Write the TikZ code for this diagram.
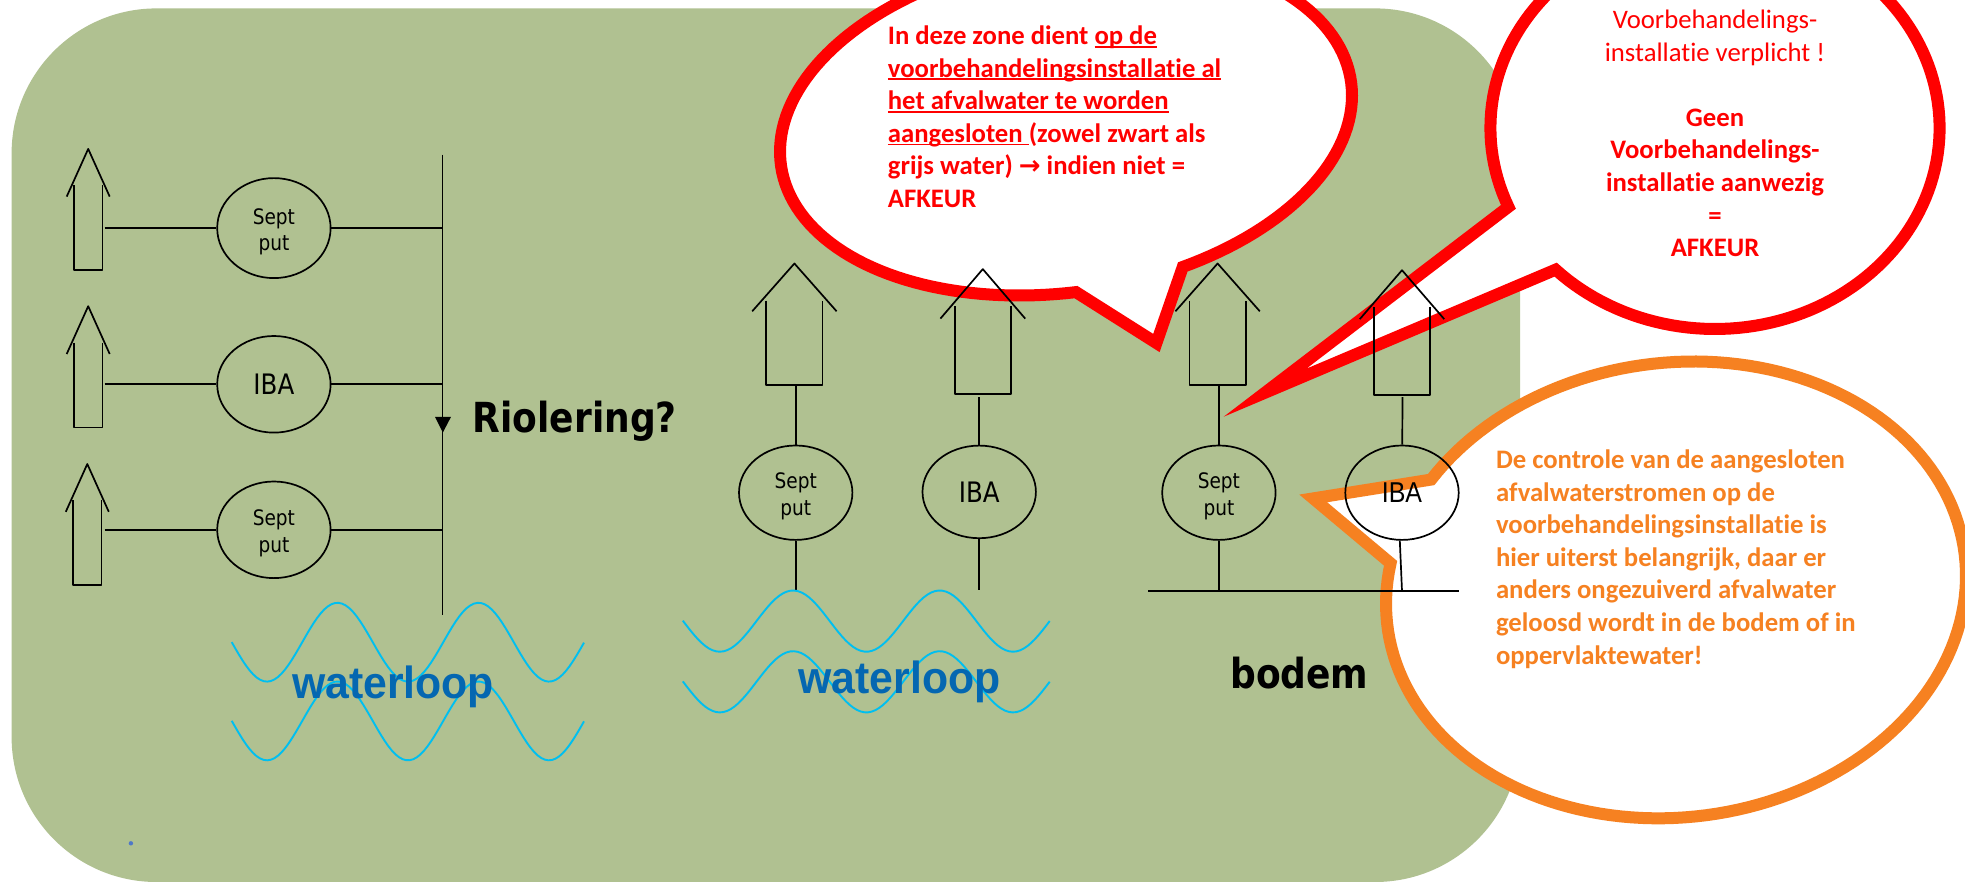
\documentclass[tikz,border=0pt]{standalone}
\usepackage{fontspec}
\usetikzlibrary{shapes.geometric}
\setmainfont[FakeStretch=0.87]{DejaVu Sans}
\newfontfamily\arialf[FakeStretch=0.87]{Liberation Sans}
\newfontfamily\arialwide[FakeStretch=0.95]{Liberation Sans}
\newfontfamily\calif[Ligatures=NoCommon]{Carlito}
\newfontfamily\arrowf{DejaVu Sans}
\definecolor{bgcol}{HTML}{B0C191}
\definecolor{redcol}{HTML}{FF0000}
\definecolor{orangecol}{HTML}{F68121}
\definecolor{wavecol}{HTML}{00BFF0}
\definecolor{bluetext}{HTML}{0467B1}
\definecolor{dotcol}{HTML}{4F78C8}
\newcommand\ulin[1]{\setbox0\hbox{#1}\rlap{\rule[-3.2pt]{\wd0}{1.9pt}}\box0}
\newcommand\lowr{\rule{0pt}{23pt}}
% apex x, apex y, wing dx, wing dy, wall dx, wall top, bottom
\newcommand\drawhouse[7]{%
  \draw[blk] ({#1-#3},{#2+#4}) -- (#1,#2) -- ({#1+#3},{#2+#4});
  \draw[blk] ({#1-#5},#6) -- ({#1-#5},#7) -- ({#1+#5},#7) -- ({#1+#5},#6);
}
\tikzset{
  x=1pt,y=-1pt,
  blk/.style={draw=black,line width=1.7pt,line join=round},
  tank/.style={shape=ellipse,draw=black,line width=1.7pt,inner sep=0pt,minimum width=113.4pt,align=center,font=\fontsize{21.3}{26.4}\selectfont},
  ibatext/.style={font=\fontsize{28.2}{32}\selectfont},
  wave/.style={draw=wavecol,line width=1.9pt},
  bubble/.style={fill=white,line width=12pt,line join=miter,miter limit=14},
  bigword/.style={font=\fontsize{41.4}{45}\selectfont\bfseries,text=black,inner sep=0pt,anchor=base west},
  waterword/.style={font=\arialwide\fontsize{45}{50}\selectfont\bfseries,text=bluetext,inner sep=0pt,anchor=base west},
  bubtext/.style={font=\calif\fontsize{26.7}{32.6}\selectfont,inner sep=0pt},
}
\begin{document}
\begin{tikzpicture}
\useasboundingbox (0,0) rectangle (1965,881);
\clip (0,0) rectangle (1965,881);
\fill[white] (0,0) rectangle (1965,881);
\fill[bgcol,rounded corners=145pt] (11.6,8.4) rectangle (1520,882);
\fill[dotcol] (130.9,843.3) circle (2.2pt);

% callouts
\draw[bubble,draw=redcol]
  plot[domain=-272:65.9,samples=160] ({1066+286*cos(\x)},{123.6-28.1*cos(\x)+169.6*sin(\x)})
  -- (1156.4,343) -- cycle;
\draw[bubble,draw=redcol]
  plot[domain=156.9:495.2,samples=160] ({1715+224.6*cos(\x)},{128+201*sin(\x)})
  -- (1265,392.7) -- cycle;
\draw[bubble,draw=orangecol]
  plot[domain=212.4:550.2,samples=160] ({1676+290*cos(\x)},{589.9-14*cos(\x)+228*sin(\x)})
  -- (1313.2,498.4) -- cycle;

% left group
\drawhouse{88.2}{148.9}{21.5}{47.7}{14.3}{185.4}{269.7}
\drawhouse{88.2}{306.2}{21.5}{47.8}{14.3}{342.7}{427.6}
\drawhouse{87.3}{464}{21.5}{47.8}{14.3}{500}{584.9}
\node[tank,minimum height=100pt] (e1) at (273.9,228.1) {\lowr Sept\\put};
\node[tank,minimum height=96.6pt,ibatext] (e2) at (273.9,384.3) {IBA};
\node[tank,minimum height=96.6pt] (e3) at (273.9,529.8) {\lowr Sept\\put};
\coordinate (t0) at (442.6,154.5);
\coordinate (t1) at (442.6,615.2);
\coordinate (h1) at (104.7,228.1);
\coordinate (h2) at (104.7,384.3);
\coordinate (h3) at (104.7,529.8);
\coordinate (j1) at (442.6,228.1);
\coordinate (j2) at (442.6,384.3);
\coordinate (j3) at (442.6,529.8);
\draw[blk] (t0) -- (t1);
\draw[blk] (h1) -- (e1) -- (j1);
\draw[blk] (h2) -- (e2) -- (j2);
\draw[blk] (h3) -- (e3) -- (j3);
\fill[black] (435,416.9) -- (451,416.9) -- (442.8,432.6) -- cycle;
\node[bigword] (riol) at (472.6,432.6) {Riolering?};
\draw[wave] plot[domain=231.7:584,samples=100] (\x,{642.2+39.4*cos((\x-267)/141*360)});
\draw[wave] plot[domain=231.7:584,samples=100] (\x,{720.9+39.4*cos((\x-267)/141*360)});
\node[waterword] (w1) at (292,698.4) {waterloop};

% middle group
\drawhouse{794.4}{263.5}{42.2}{47.8}{28.1}{300.6}{384.8}
\node[tank,minimum height=94.4pt] (e4) at (795.7,492.7) {\lowr Sept\\put};
\coordinate (h4) at (795.7,384.8);
\coordinate (o4) at (795.7,589.9);
\draw[blk] (h4) -- (e4) -- (o4);
\drawhouse{982.8}{269.1}{42.4}{49.5}{28.1}{306.2}{393.8}
\node[tank,minimum height=92.6pt,ibatext] (e5) at (979.2,491.9) {IBA};
\coordinate (h5) at (979.2,397.2);
\coordinate (o5) at (979.2,589.9);
\draw[blk] (h5) -- (e5) -- (o5);
\draw[wave] plot[domain=682.8:1049.7,samples=100] (\x,{621.1+30.6*cos((\x-719.8)/146.6*360)});
\draw[wave] plot[domain=682.8:1049.7,samples=100] (\x,{681.8+30.6*cos((\x-719.8)/146.6*360)});
\node[waterword] (w2) at (798.5,693.8) {waterloop};

% right group
\drawhouse{1217.6}{263.5}{42.2}{47.8}{28.1}{300.6}{384.8}
\node[tank,minimum height=94.4pt] (e6) at (1218.9,492.7) {\lowr Sept\\put};
\coordinate (h6) at (1218.9,384.8);
\coordinate (g0) at (1148.4,591);
\coordinate (g1) at (1458.8,591);
\coordinate (g6) at (1218.9,591);
\draw[blk] (h6) -- (e6) -- (g6);
\draw[blk] (g0) -- (g1);
\drawhouse{1402}{270.2}{42.2}{48.9}{28.3}{307.3}{395}
\node[tank,minimum height=94.4pt,font=\arialf\fontsize{28.7}{32}\selectfont] (e7) at (1402,492.7) {IBA};
\coordinate (h7) at (1402.5,397.2);
\coordinate (o7) at (1399.8,540.5);
\coordinate (g7) at (1402,591);
\draw[blk] (h7) -- (e7);
\draw[blk] (o7) -- (g7);
\node[bigword] (bod) at (1230,688.2) {bodem};

% callout texts
\node[bubtext,text=redcol,anchor=north west,align=left] (tr1) at (887.7,25.5) {%
  \textbf{In deze zone dient \ulin{op de}}\\
  \textbf{\ulin{voorbehandelingsinstallatie al}}\\
  \textbf{\ulin{het afvalwater te worden}}\\
  \textbf{\ulin{aangesloten\ }(zowel zwart als}\\
  \textbf{grijs water) {\arrowf\fontsize{26}{32.6}\selectfont →} indien niet =}\\
  \textbf{AFKEUR}};
\node[bubtext,text=redcol,anchor=north,align=center] (tr2) at (1715,9.7) {%
  Voorbehandelings-\\
  installatie verplicht !\\
  \\
  \textbf{Geen}\\
  \textbf{Voorbehandelings-}\\
  \textbf{installatie aanwezig}\\
  \textbf{=}\\
  \textbf{AFKEUR}};
\node[bubtext,text=orangecol,anchor=north west,align=left] (tr3) at (1495.8,449.5) {%
  \textbf{De controle van de aangesloten}\\
  \textbf{afvalwaterstromen op de}\\
  \textbf{voorbehandelingsinstallatie is}\\
  \textbf{hier uiterst belangrijk, daar er}\\
  \textbf{anders ongezuiverd afvalwater}\\
  \textbf{geloosd wordt in de bodem of in}\\
  \textbf{oppervlaktewater!}};
\end{tikzpicture}
\end{document}
